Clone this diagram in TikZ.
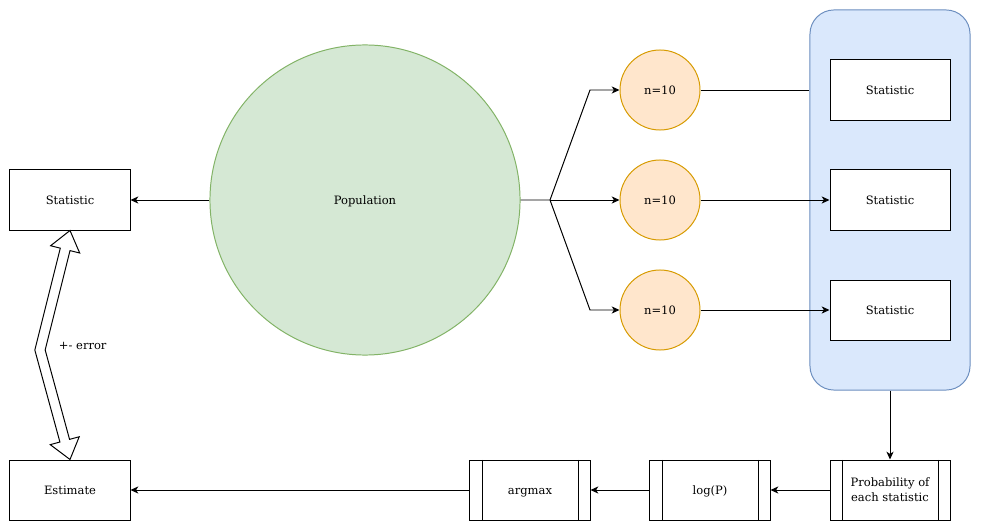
\documentclass[tikz,border=0pt]{standalone}
\usepackage{fontspec}
\setmainfont{DejaVu Serif}
\usetikzlibrary{arrows.meta,positioning}
\definecolor{popfill}{HTML}{D5E8D4}
\definecolor{popdraw}{HTML}{82B366}
\definecolor{smpfill}{HTML}{FFE6CC}
\definecolor{smpdraw}{HTML}{D79B00}
\definecolor{boxfill}{HTML}{DAE8FC}
\definecolor{boxdraw}{HTML}{6C8EBF}
\tikzset{
  every node/.style={font=\fontsize{8.2}{10.7}\selectfont},
  oneline/.style={text height=1.6ex, text depth=0.4ex},
  plain/.style={draw, line width=0.7pt, minimum width=3cm, minimum height=1.5cm, fill=white},
  proc/.style={plain, path picture={
      \draw[line width=0.7pt] ([xshift=0.3cm]path picture bounding box.north west) -- ([xshift=0.3cm]path picture bounding box.south west);
      \draw[line width=0.7pt] ([xshift=-0.3cm]path picture bounding box.north east) -- ([xshift=-0.3cm]path picture bounding box.south east);}},
  sample/.style={circle, draw=smpdraw, fill=smpfill, line width=0.7pt, minimum size=2cm, inner sep=0pt},
  arr/.style={line width=0.7pt, -{Stealth[length=5.5pt, width=5pt, inset=1.5pt]}},
  link/.style={line width=0.7pt}
}
\begin{document}
\begin{tikzpicture}[x=0.025cm, y=-0.025cm]
  \useasboundingbox (0, 0) rectangle (981, 531);

  \node[circle, draw=popdraw, fill=popfill, line width=0.7pt, minimum size=7.75cm, oneline] (pop) at (365, 200) {Population};
  \node[plain, oneline] (stat) at (70, 200) {Statistic};
  \node[plain, oneline] (est) at (70, 490) {Estimate};

  \node[sample, oneline] (s1) at (660, 90) {n=10};
  \node[sample, oneline] (s2) at (660, 200) {n=10};
  \node[sample, oneline] (s3) at (660, 310) {n=10};

  \node[draw=boxdraw, fill=boxfill, line width=0.7pt, rounded corners=0.6cm,
        minimum width=4cm, minimum height=9.5cm] (group) at (890, 200) {};
  \node[plain, oneline] (st1) at (890, 90) {Statistic};
  \node[plain, oneline] (st2) at (890, 200) {Statistic};
  \node[plain, oneline] (st3) at (890, 310) {Statistic};

  \node[proc, align=center] (prob) at (890, 490) {Probability of\\each statistic};
  \node[proc, oneline] (logp) at (710, 490) {log(P)};
  \node[proc, oneline] (amax) at (530, 490) {argmax};

  \coordinate (fork) at (550, 200);
  \coordinate (up) at (590, 90);
  \coordinate (down) at (590, 310);

  \draw[arr] (pop) -- (stat);
  \draw[arr] (pop.east) -- (fork) -- (up) -- (s1);
  \draw[arr] (fork) -- (s2);
  \draw[arr] (fork) -- (down) -- (s3);
  \draw[link] (s1) -- (group.west |- s1);
  \draw[arr] (s2) -- (st2);
  \draw[arr] (s3) -- (st3);
  \draw[arr] (group) -- (prob);
  \draw[arr] (prob) -- (logp);
  \draw[arr] (logp) -- (amax);
  \draw[arr] (amax) -- (est);

  % two-headed hollow arrow between statistic and estimate
  \draw[line width=0.7pt, fill=white, line join=miter]
  (stat.south) -- (79.70, 253.04) -- (70.00, 250.61) -- (45.17, 349.94)
  -- (69.56, 439.38) -- (79.21, 436.75) -- (est.north) -- (50.27, 444.65)
  -- (59.92, 442.02) -- (34.83, 350.06) -- (60.30, 248.19) -- (50.60, 245.76) -- cycle;
  \node[right, oneline] (err) at (54, 345) {+- error};

\end{tikzpicture}
\end{document}
